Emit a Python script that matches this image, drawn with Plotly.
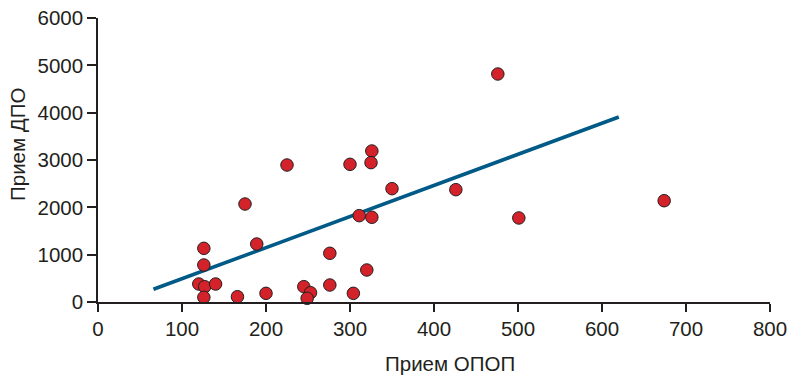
import plotly.graph_objects as go

# Data
opop = [126, 126, 120, 127, 126, 140, 166, 175, 189, 200, 225, 245, 253, 249,
        276, 276, 300, 304, 311, 320, 326, 325, 326, 350, 426, 476, 501, 674]
dpo = [1134, 782, 380, 323, 99, 380, 112, 2070, 1225, 183, 2894, 324, 197, 78,
       1029, 359, 2909, 183, 1824, 676, 3190, 2944, 1790, 2394, 2373, 4817, 1775, 2140]

trend_x = [66, 620]
trend_y = [268, 3909]

x_ticks = [0, 100, 200, 300, 400, 500, 600, 700, 800]
y_ticks = [0, 1000, 2000, 3000, 4000, 5000, 6000]

x_title = "Прием ОПОП"
y_title = "Прием ДПО"

FONT = "Liberation Sans, Arial, sans-serif"
TXT = "#231f20"
FS = 20.5

fig = go.Figure()
fig.add_trace(go.Scatter(
    x=trend_x, y=trend_y, mode="lines",
    line=dict(color="#005a87", width=3.6), showlegend=False, hoverinfo="skip"))
fig.add_trace(go.Scatter(
    x=opop, y=dpo, mode="markers",
    marker=dict(size=12.5, color="#d3222a", line=dict(color="#231f20", width=1)),
    showlegend=False, cliponaxis=False))

fig.update_layout(
    width=790, height=376,
    margin=dict(l=98, r=20, t=18, b=74, autoexpand=False),
    paper_bgcolor="white", plot_bgcolor="white",
    font=dict(family=FONT, color=TXT, size=FS),
    annotations=[
        dict(text=x_title, xref="paper", yref="paper", x=(449.5 - 98) / 672, y=-61 / 284,
             xanchor="center", yanchor="middle", showarrow=False,
             font=dict(family=FONT, size=FS, color=TXT)),
        dict(text=y_title, xref="paper", yref="paper", x=-81 / 672, y=(302 - 145) / 284,
             xanchor="center", yanchor="middle", textangle=-90, showarrow=False,
             font=dict(family=FONT, size=FS, color=TXT)),
    ],
)
fig.update_xaxes(
    range=[0, 800], tickvals=x_ticks, ticktext=[str(v) for v in x_ticks],
    showgrid=False, zeroline=False, showline=True, linecolor=TXT, linewidth=1.5,
    ticks="outside", ticklen=8, tickcolor=TXT, tickwidth=1.5, automargin=False,
    tickfont=dict(family=FONT, size=FS, color=TXT),
)
fig.update_yaxes(
    range=[0, 6000], tickvals=y_ticks, ticktext=[str(v) for v in y_ticks],
    showgrid=False, zeroline=False, showline=True, linecolor=TXT, linewidth=1.5,
    ticks="outside", ticklen=9, tickcolor=TXT, tickwidth=1.5, automargin=False,
    tickfont=dict(family=FONT, size=FS, color=TXT),
)

fig.write_html("out.html", config={"displayModeBar": False},
               post_script="document.body.style.margin='0';document.body.style.overflow='hidden';")
